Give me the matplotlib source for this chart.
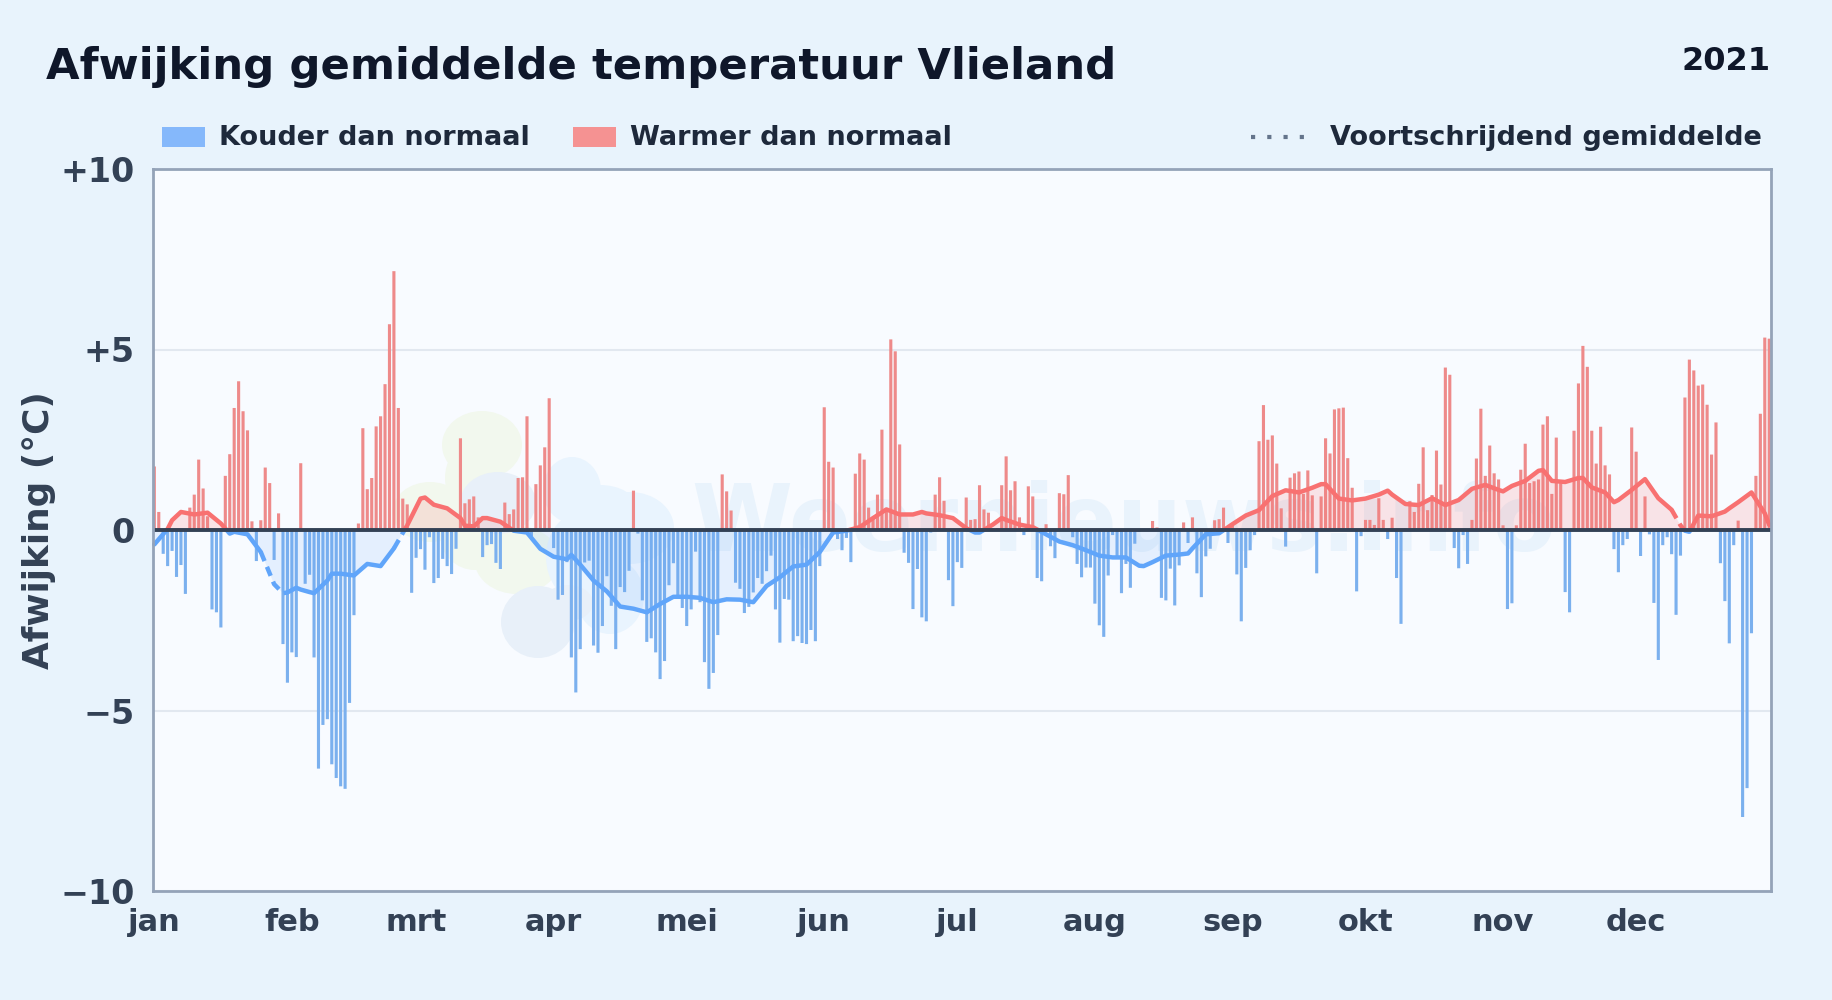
import matplotlib
matplotlib.use("Agg")
import matplotlib.pyplot as plt
import numpy as np
from matplotlib.patches import Ellipse, Rectangle
from matplotlib.lines import Line2D

# daily deviation from normal (index 0 = 1 jan)
jan_feb_mrt = [1.76, 0.5, -0.66, -1.0, -0.58, -1.3, -0.97, -1.77, 0.62, 0.98, 1.95, 1.15, 0.38, -2.2, -2.28, -2.7,
               1.5, 2.1, 3.38, 4.12, 3.29, 2.76, 0.24, -0.86, 0.27, 1.73, 1.3, -0.83, 0.46, -3.16, -4.23,
               -3.39, -3.52, 1.85, -1.49, -1.24, -3.53, -6.61, -5.4, -5.24, -6.49, -6.87, -7.1, -7.17, -4.79, -2.36, 0.18,
               2.82, 1.13, 1.44, 2.87, 3.15, 4.04, 5.7, 7.17, 3.38, 0.87, 0.71, -1.74,
               -0.77, -0.53, -1.1, -0.2, -1.47, -1.33, -0.8, -1.0, -1.22, -0.52, 2.54, 0.74, 0.85, 0.93, 0.35, -0.75,
               -0.42, -0.39, -0.91, -1.08, 0.76, 0.44, 0.57, 1.44, 1.46, 3.15, -0.17, 1.27, 1.79, 2.29, 3.65]
apr_mei_jun = [-0.5, -1.93, -1.8, -0.89, -3.53, -4.5, -3.3, -0.9, -0.85, -3.2, -3.4, -2.66, -1.28, -2.1, -3.3, -1.58,
               -1.72, -1.13, 1.09, -0.1, -1.95, -3.1, -3.0, -3.39, -4.13, -3.63, -1.53, -0.92, -1.8, -2.16,
               -2.66, -2.2, -0.6, -2.0, -3.66, -4.4, -3.96, -2.91, 1.54, 1.07, 0.54, -1.46, -1.63, -2.3, -2.13, -1.73,
               -1.33, -1.49, -1.14, -0.71, -2.2, -3.12, -1.91, -1.93, -3.08, -2.94, -3.13, -3.16, -2.77, -3.08, -1.0,
               3.4, 1.89, 1.73, -0.25, -0.56, -0.22, -0.89, 1.56, 2.12, 1.95, 0.62, 0.33, 0.98, 2.78, 0.52,
               5.28, 4.95, 2.37, -0.63, -0.91, -2.19, -1.08, -2.42, -2.53, -0.07, 0.98, 1.46, 0.81, -1.39, -2.11]
jul_aug_sep = [-0.89, -1.05, 0.9, 0.28, 0.3, 1.24, 0.57, 0.48, 0.05, 0.05, 1.24, 2.04, 1.1, 1.35, 0.35, -0.14,
               1.21, 0.93, -1.33, -1.42, 0.16, -0.45, -0.78, 1.02, 0.99, 1.52, -0.2, -0.94, -1.31, -1.04, -1.04,
               -2.04, -2.64, -2.96, -1.26, -0.14, -0.76, -1.75, -0.94, -1.6, -0.38, -0.05, 0.03, 0.03, 0.25, 0.07,
               -1.88, -1.95, -1.07, -2.09, -0.98, 0.21, -0.36, 0.35, -1.2, -1.86, -0.73, -0.52, 0.27, 0.3, 0.62, -0.36,
               0.17, -1.23, -2.53, -1.05, -0.56, -0.14, 2.46, 3.46, 2.5, 2.62, 1.84, 0.6, -0.46, 1.45, 1.57, 1.62,
               1.0, 1.65, 0.96, -1.2, 0.93, 2.54, 2.12, 3.34, 3.37, 3.39]
okt_nov_dec = [1.99, 1.17, -1.7, -0.17, 0.28, 0.28, 0.14, 0.88, 0.28, -0.25, 0.34, -1.33, -2.6, 0.05, 0.8, 0.5,
               1.28, 2.29, 0.55, 0.97, 2.2, 1.26, 4.5, 4.3, -0.5, -1.06, -0.14, -0.94, 0.28, 1.98, 3.36, 1.5, 2.34,
               1.57, 1.4, 0.13, -2.19, -2.03, 0.13, 1.67, 2.39, 1.3, 1.35, 1.4, 2.92, 3.15, 1.0, 2.56, 1.3, -1.72,
               -2.28, 2.75, 4.06, 5.1, 4.52, 2.75, 1.84, 2.86, 1.79, 1.54, -0.53, -1.17, -0.42, -0.25, 2.84, 2.17,
               -0.72, 0.93, -0.12, -2.02, -3.6, -0.42, -0.2, -0.67, -2.35, -0.71, 3.67, 4.72, 4.42, 4.0, 4.03, 3.47,
               2.09, 2.98, -0.92, -1.97, -3.14, -0.42, 0.26, -7.95, -7.15, -2.86, 1.5, 3.22, 5.33, 5.3]

# moving average, read every third day, plus the last day
avg_days = list(range(0, 364, 3)) + [364]
avg_values = [-0.4, 0.03, 0.5, 0.43, 0.48, 0.18, -0.05, -0.12, -0.61, -1.5, -1.73, -1.65, -1.75, -1.4, -1.21, -1.26,
              -0.94, -1.0, -0.51, 0.13, 0.87, 0.7, 0.6, 0.33, 0.1, 0.33, 0.23, -0.02, -0.07, -0.52, -0.74,
              -0.81, -0.96, -1.4, -1.7, -2.12, -2.18, -2.28, -2.05, -1.85, -1.85, -1.88, -2.0, -1.92, -1.93, -2.0,
              -1.55, -1.31, -1.01, -0.96, -0.61, -0.07, -0.02, 0.08, 0.33, 0.57, 0.43, 0.43, 0.46, 0.41, 0.33,
              0.05, -0.07, 0.15, 0.28, 0.15, 0.08, -0.12, -0.32, -0.42, -0.56, -0.71, -0.76, -0.76, -0.99, -0.89,
              -0.71, -0.68, -0.51, -0.12, -0.09, 0.16, 0.4, 0.55, 0.94, 1.1, 1.04, 1.17, 1.27, 0.87, 0.82,
              0.87, 0.98, 0.98, 0.72, 0.69, 0.88, 0.69, 0.83, 1.14, 1.25, 1.11, 1.22, 1.36, 1.64, 1.36, 1.33, 1.44,
              1.18, 1.04, 0.83, 1.11, 1.41, 0.88, 0.56, -0.02, 0.4, 0.38, 0.51, 0.77, 1.04, 0.46, 0.14]
# bends of the line that fall between those days
bend_days = [4, 17, 29, 32, 35, 40, 61, 70, 74, 94, 173, 185, 191, 223, 233, 263, 278, 304, 313, 322, 329, 344, 346, 355]
bend_values = [0.27, -0.1, -1.75, -1.6, -1.72, -1.21, 0.9, 0.12, 0.33, -0.69, 0.5, -0.07, 0.33, -1.0, -0.65, 1.27,
               1.09, 1.07, 1.66, 1.44, 0.77, 0.13, -0.05, 0.6]
dashed_spans = [(24, 30), (54, 57), (342, 345)]

month_days = [0, 31, 59, 90, 120, 151, 181, 212, 243, 273, 304, 334]
month_names = ["jan", "feb", "mrt", "apr", "mei", "jun", "jul", "aug", "sep", "okt", "nov", "dec"]
y_ticks = [-10, -5, 0, 5, 10]
y_labels = ["\u221210", "\u22125", "0", "+5", "+10"]

W, H = 1832, 1000
BLUE = "#60a5fa"
RED = "#f87171"
GREEN_BLOB = "#f2f8ee"
SLATE_BLOB = "#e8f0f9"
SKY_BLOB = "#e9f4fe"

plt.rcParams["font.family"] = "DejaVu Sans"
plt.rcParams["font.weight"] = "bold"

fig = plt.figure(figsize=(W / 100, H / 100), dpi=100, facecolor="#e8f3fc")
ax = fig.add_axes([153 / W, 1 - 891 / H, (1771 - 153) / W, (891 - 169) / H], facecolor="#f8fbff")


def px(x, y):
    return x / W, 1 - y / H


# plot background and the faint logo and site name behind the data
fig.add_artist(Rectangle((153 / W, 1 - 891 / H), (1771 - 153) / W, (891 - 169) / H, color="#f8fbff", lw=0,
                         zorder=1.2, transform=fig.transFigure))
blobs = [((482, 445), 80, 68, GREEN_BLOB), ((465, 478), 40, 60, GREEN_BLOB), ((430, 512), 75, 60, GREEN_BLOB),
         ((517, 560), 85, 68, GREEN_BLOB), ((475, 535), 70, 70, GREEN_BLOB),
         ((572, 490), 58, 66, SKY_BLOB), ((630, 528), 88, 72, SKY_BLOB), ((600, 505), 70, 40, SKY_BLOB),
         ((582, 557), 72, 90, SKY_BLOB), ((610, 596), 68, 76, SKY_BLOB),
         ((498, 503), 76, 62, SLATE_BLOB), ((538, 622), 74, 72, SLATE_BLOB), ((568, 603), 50, 36, SLATE_BLOB)]
for (cx, cy), w, h, col in blobs:
    x0, y0 = px(cx, cy)
    fig.add_artist(Ellipse((x0, y0), w / W, h / H, color=col, lw=0, zorder=1.5, transform=fig.transFigure))
fig.text(*px(1124, 525), "Weernieuws.info", fontsize=66, color="#e9f3fc", ha="center", va="center", zorder=1.6)
ax.patch.set_alpha(0)
ax.set_zorder(2)

values = np.array(jan_feb_mrt + apr_mei_jun + jul_aug_sep + okt_nov_dec)
days = np.arange(len(values))
colors = ["#ee8a8a" if v > 0 else "#7bb0ee" for v in values]
bars = ax.bar(days, values, width=0.7, color=colors, lw=0, zorder=2)
for b in bars:
    b.set_snap(False)

order = np.argsort(avg_days + bend_days)
ad = np.array(avg_days + bend_days)[order]
av = np.array(avg_values + bend_values)[order]
ax.fill_between(ad, av, 0, where=av >= 0, interpolate=True, color=RED, alpha=0.17, lw=0, zorder=3)
ax.fill_between(ad, av, 0, where=av <= 0, interpolate=True, color=BLUE, alpha=0.13, lw=0, zorder=3)

for col, y0, y1 in [(RED, 0, 20), (BLUE, -20, 0)]:
    clip = Rectangle((-5, y0), 375, y1 - y0, transform=ax.transData)
    start = 0
    for a, b in dashed_spans + [(364, 364)]:
        keep = (ad >= start) & (ad <= a)
        solid, = ax.plot(ad[keep], av[keep], color=col, lw=3.2, zorder=4,
                         solid_capstyle="round", solid_joinstyle="round")
        solid.set_clip_path(clip)
        start = b
        keep = (ad >= a) & (ad <= b)
        if a != b:
            dash, = ax.plot(ad[keep], av[keep], color=col, lw=3.2, zorder=4, linestyle=(0, (2.2, 1.4)))
            dash.set_clip_path(clip)

ax.axhline(0, color="#334155", lw=2.8, zorder=5)
ax.set_xlim(-0.3, 364.4)
ax.set_ylim(-10, 10)
ax.set_xticks(month_days)
ax.set_xticklabels(month_names, fontsize=22, color="#334155")
ax.set_yticks(y_ticks)
ax.set_yticklabels(y_labels, fontsize=24, color="#334155")
ax.tick_params(axis="y", length=0, pad=13)
ax.tick_params(axis="x", length=0, pad=12)
ax.grid(axis="y", color="#e2e8f0", lw=1.5, zorder=1)
ax.set_axisbelow(True)
for s in ax.spines.values():
    s.set_color("#94a3b8")
    s.set_linewidth(2)
    s.set_zorder(6)

fig.text(*px(39, 530), "Afwijking (\u00b0C)", rotation=90, fontsize=25.8, color="#334155", ha="center", va="center")
fig.text(*px(46, 67), "Afwijking gemiddelde temperatuur Vlieland", fontsize=31.2, color="#0f172a", va="center")
fig.text(*px(1771, 62), "2021", fontsize=23, color="#0f172a", ha="right", va="center")

# legend row above the plot
for x0, col, label in [(162, "#85b8fb", "Kouder dan normaal"), (573, "#f59292", "Warmer dan normaal")]:
    fx, fy = px(x0, 147)
    fig.add_artist(Rectangle((fx, fy), 43 / W, 20 / H, color=col, lw=0, transform=fig.transFigure))
    fig.text(*px(x0 + 57, 138), label, fontsize=19.5, color="#1e293b", va="center")
lx0, ly = px(1251, 137)
lx1, _ = px(1311, 137)
fig.add_artist(Line2D([lx0, lx1], [ly, ly], color="#64748b", lw=3, linestyle=(0, (1, 2.9)), transform=fig.transFigure))
fig.text(*px(1330, 138), "Voortschrijdend gemiddelde", fontsize=19.5, color="#1e293b", va="center")

fig.savefig("out.png", dpi=100, facecolor=fig.get_facecolor())
